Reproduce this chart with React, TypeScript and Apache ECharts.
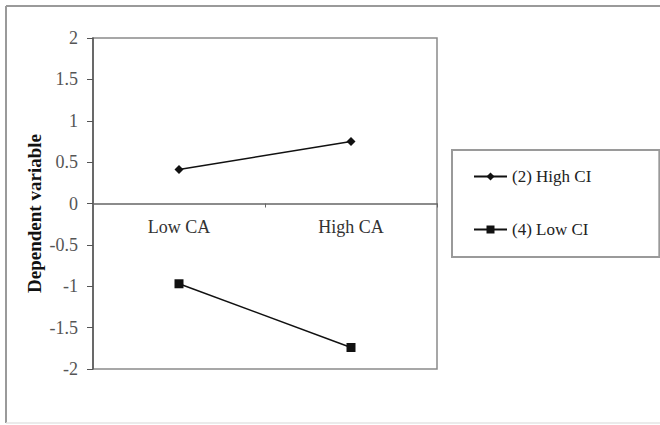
import React, { useEffect, useRef } from "react";
import * as echarts from "echarts";

const categories = ["Low CA", "High CA"];
const highCI = [0.41, 0.75];
const lowCI = [-0.97, -1.74];
const seriesNames = ["(2) High CI", "(4) Low CI"];
const yTicks = { min: -2, max: 2, interval: 0.5 };

const FONT = "'Liberation Serif', 'Times New Roman', serif";

export default function App() {
  const ref = useRef<HTMLDivElement>(null);
  useEffect(() => {
    if (!ref.current) return;
    const chart = echarts.init(ref.current, null, { renderer: "svg" });
    const gridTop = 38;
    const gridBottom = 56;
    const plotH = 425 - gridTop - gridBottom;
    const zeroOffset = -(plotH * (0 - yTicks.min)) / (yTicks.max - yTicks.min);
    chart.setOption({
      animation: false,
      backgroundColor: "#ffffff",
      textStyle: { fontFamily: FONT },
      graphic: [
        { type: "line", shape: { x1: 6, y1: 6, x2: 660, y2: 6 }, style: { stroke: "#9a9a9a", lineWidth: 2 } },
        { type: "line", shape: { x1: 6, y1: 6, x2: 6, y2: 423 }, style: { stroke: "#9a9a9a", lineWidth: 2 } },
        { type: "line", shape: { x1: 6, y1: 423, x2: 660, y2: 423 }, style: { stroke: "#e4e4e4", lineWidth: 1.5 } },
      ],
      grid: {
        left: 93,
        right: 223,
        top: gridTop,
        bottom: gridBottom,
        show: true,
        borderColor: "#8a8a8a",
        borderWidth: 1.5,
        backgroundColor: "transparent",
      },
      legend: {
        orient: "vertical",
        left: 452,
        top: 150,
        padding: [18, 68, 19, 21],
        itemGap: 36,
        itemWidth: 33,
        itemHeight: 10,
        borderColor: "#9a9a9a",
        borderWidth: 2,
        textStyle: { fontFamily: FONT, fontSize: 17, color: "#222", lineHeight: 17 },
        data: seriesNames,
      },
      xAxis: {
        type: "category",
        data: categories,
        boundaryGap: true,
        position: "bottom",
        offset: zeroOffset,
        axisLine: { show: true, onZero: false, lineStyle: { color: "#666", width: 1.5 } },
        axisTick: { show: true, length: 4, lineStyle: { color: "#666" } },
        axisLabel: { fontFamily: FONT, fontSize: 18, color: "#333", margin: 14 },
        splitLine: { show: false },
      },
      yAxis: {
        type: "value",
        min: yTicks.min,
        max: yTicks.max,
        interval: yTicks.interval,
        name: "Dependent variable",
        nameLocation: "middle",
        nameRotate: 90,
        nameGap: 49,
        nameMoveOverlap: false,
        nameTextStyle: { fontFamily: FONT, fontSize: 19, fontWeight: "bold", color: "#111", padding: [0, 20, 0, 0] },
        axisLine: { show: true, lineStyle: { color: "#555", width: 1.5 } },
        axisTick: { show: true, length: 6, lineStyle: { color: "#555" } },
        axisLabel: { fontFamily: FONT, fontSize: 18, color: "#555", margin: 15 },
        splitLine: { show: false },
      },
      series: [
        {
          name: seriesNames[0],
          type: "line",
          data: highCI,
          symbol: "diamond",
          symbolSize: 9,
          lineStyle: { color: "#111", width: 1.5 },
          itemStyle: { color: "#111" },
        },
        {
          name: seriesNames[1],
          type: "line",
          data: lowCI,
          symbol: "rect",
          symbolSize: 9,
          lineStyle: { color: "#111", width: 1.5 },
          itemStyle: { color: "#111" },
        },
      ],
    });
    return () => chart.dispose();
  }, []);
  return (
    <div
      ref={ref}
      style={{ position: "fixed", left: 0, top: 0, width: 660, height: 425 }}
    />
  );
}
